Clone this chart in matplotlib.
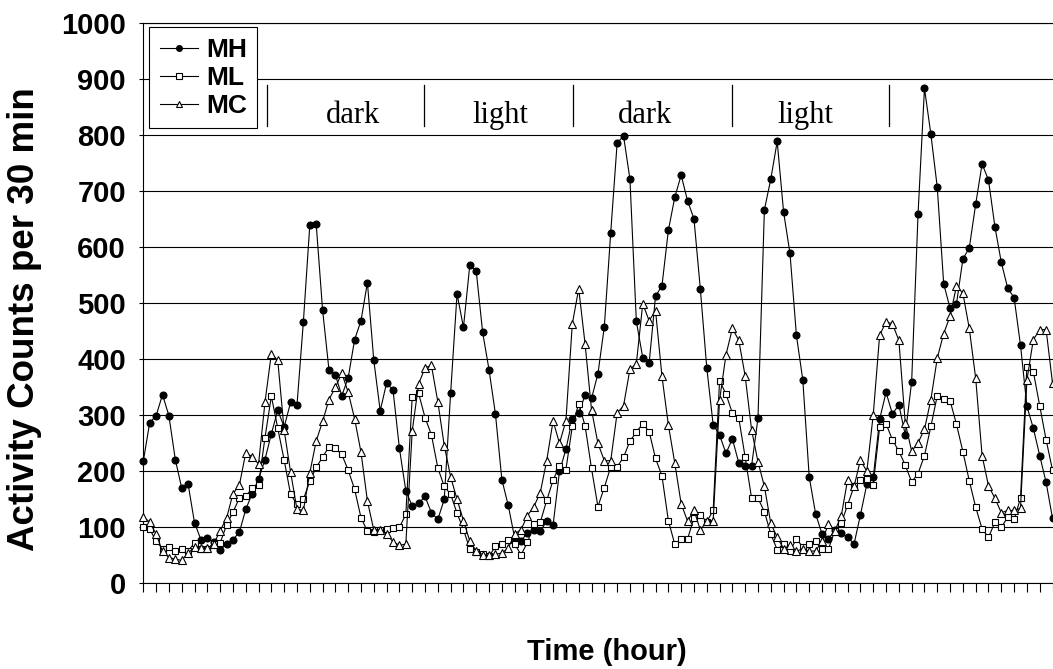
import numpy as np
import matplotlib
matplotlib.use('Agg')
import matplotlib.pyplot as plt
from matplotlib.lines import Line2D

# ---- data (activity counts per 30 min, one value per half hour) ----
mh = [218, 287, 299, 337, 299, 221, 170, 177, 108, 78, 81, 74, 60, 70, 78, 91, 132, 160, 186, 221,
      267, 309, 279, 323, 318, 467, 639, 642, 488, 381, 372, 335, 367, 435, 469, 537, 398, 308, 358, 345,
      241, 165, 138, 143, 155, 126, 114, 150, 340, 517, 457, 569, 557, 448, 381, 302, 185, 139, 81, 76,
      90, 96, 93, 111, 104, 200, 239, 293, 304, 336, 330, 374, 458, 626, 786, 799, 722, 468, 403, 393,
      513, 531, 630, 689, 729, 683, 651, 525, 385, 283, 265, 232, 258, 215, 210, 210, 295, 667, 722, 789,
      663, 589, 443, 363, 190, 124, 88, 79, 95, 89, 83, 70, 122, 177, 189, 293, 341, 302, 319, 265,
      360, 660, 884, 802, 707, 535, 491, 499, 579, 599, 677, 749, 720, 637, 573, 527, 510, 425, 316, 277,
      228, 180, 116]
ml = [100, 97, 75, 62, 65, 57, 62, 58, 72, 62, 62, 70, 72, 104, 127, 152, 155, 170, 176, 260,
      334, 277, 220, 159, 141, 150, 182, 207, 225, 244, 241, 230, 202, 168, 117, 93, 91, 95, 97, 98,
      100, 123, 333, 339, 296, 265, 206, 173, 159, 125, 96, 61, 56, 53, 48, 66, 70, 78, 70, 51,
      73, 106, 109, 148, 184, 210, 203, 280, 321, 281, 205, 137, 171, 208, 208, 225, 254, 270, 285, 271,
      223, 192, 112, 70, 79, 79, 117, 122, 110, 130, 362, 338, 304, 295, 225, 152, 152, 128, 88, 60,
      71, 58, 79, 65, 71, 76, 62, 61, 94, 107, 140, 173, 185, 186, 176, 279, 285, 256, 236, 211,
      181, 196, 228, 280, 335, 329, 326, 284, 235, 183, 136, 97, 82, 109, 100, 118, 114, 152, 387, 378,
      317, 256, 202]
mc = [119, 109, 88, 57, 46, 43, 41, 54, 64, 63, 63, 70, 94, 116, 160, 175, 233, 226, 213, 323,
      410, 398, 273, 199, 132, 130, 197, 254, 289, 328, 350, 375, 341, 294, 234, 147, 95, 96, 88, 74,
      68, 70, 272, 356, 385, 389, 324, 246, 190, 150, 112, 75, 58, 51, 50, 52, 54, 63, 88, 96,
      121, 137, 162, 219, 290, 250, 290, 463, 526, 427, 310, 250, 219, 219, 304, 317, 382, 392, 499, 469,
      487, 370, 283, 215, 142, 111, 131, 95, 111, 112, 327, 408, 455, 434, 370, 274, 217, 173, 107, 82,
      62, 68, 57, 62, 57, 58, 75, 106, 94, 120, 185, 173, 220, 200, 301, 443, 467, 463, 434, 286,
      236, 251, 275, 328, 402, 446, 477, 531, 518, 455, 366, 228, 174, 152, 126, 130, 130, 134, 363, 435,
      453, 453, 357]
series_names = ['MH', 'ML', 'MC']
y_ticks = list(range(0, 1001, 100))
phase_labels = ['dark', 'light', 'dark', 'light']
phase_bounds = [9.64, 21.94, 33.53, 45.95, 58.25]   # hours
phase_label_x = [16.35, 27.85, 39.18, 51.67]        # hours

SANS = ['Liberation Sans', 'DejaVu Sans']
SERIF = ['Liberation Serif', 'DejaVu Serif']

W, H = 1053, 669
fig = plt.figure(figsize=(W / 100, H / 100), dpi=100)
ax_left, ax_right, ax_top, ax_bot = 143.3, 1053.0, 23.3, 583.3
ax = fig.add_axes([ax_left / W, 1 - ax_bot / H, (ax_right - ax_left) / W, (ax_bot - ax_top) / H])

x = np.arange(len(mh)) * 0.5
lw = 0.8
ax.plot(x, mh, '-', marker='o', color='black', mfc='black', mec='black', ms=4.8, lw=lw,
        clip_on=False, zorder=5)
ax.plot(x, ml, '-', marker='s', color='black', mfc='white', mec='black', ms=4.6, mew=0.8, lw=lw,
        clip_on=False, zorder=6)
ax.plot(x, mc, '-', marker='^', color='black', mfc='white', mec='black', ms=5.6, mew=0.8, lw=lw,
        clip_on=False, zorder=7)

ax.set_xlim(0, (ax_right - ax_left) / 12.806)
ax.set_ylim(0, 1000)
ax.set_yticks(y_ticks)
ax.set_yticklabels([str(v) for v in y_ticks])
ax.set_xticks(np.arange(0, 72, 1))
ax.tick_params(axis='x', direction='out', length=6.5, width=0.8, labelbottom=False)
ax.tick_params(axis='y', direction='out', length=3, width=0.8, labelsize=21, pad=9.5)
for lab in ax.get_yticklabels():
    lab.set_fontweight('bold')
    lab.set_family(SANS)

ax.yaxis.grid(True, color='black', lw=0.8)
ax.set_axisbelow(True)
ax.spines['right'].set_visible(False)
for s in ['left', 'bottom', 'top']:
    ax.spines[s].set_linewidth(0.8)

ax.set_ylabel('Activity Counts per 30 min', fontsize=26.5, fontweight='bold', family=SANS)
ax.yaxis.set_label_coords((25 - ax_left) / (ax_right - ax_left), 0.472)
ax.set_xlabel('Time (hour)', fontsize=21, fontweight='bold', family=SANS)
ax.xaxis.set_label_coords((607 - ax_left) / (ax_right - ax_left), (ax_bot - 652) / (ax_bot - ax_top))
ax.xaxis.label.set_va('center')
ax.yaxis.label.set_va('center')

# light/dark annotations
for b in phase_bounds:
    ax.plot([b, b], [817, 890], color='black', lw=0.9, zorder=3)
for lx, lt in zip(phase_label_x, phase_labels):
    ax.text(lx, 822, lt, ha='center', va='baseline', fontsize=22, family=SERIF, zorder=3)

handles = [
    Line2D([], [], color='black', lw=lw, marker='o', mfc='black', mec='black', ms=4),
    Line2D([], [], color='black', lw=lw, marker='s', mfc='white', mec='black', ms=4.4, mew=0.8),
    Line2D([], [], color='black', lw=lw, marker='^', mfc='white', mec='black', ms=5, mew=0.8),
]
leg = ax.legend(handles, series_names, loc='upper left',
                bbox_to_anchor=(149.3 / W, 1 - 27.3 / H), bbox_transform=fig.transFigure,
                frameon=True, fancybox=False, edgecolor='black', framealpha=1,
                borderaxespad=0, prop={'family': SANS, 'weight': 'bold', 'size': 19},
                handlelength=1.45, handletextpad=0.3, labelspacing=0.15, borderpad=0.4)
leg.get_frame().set_linewidth(0.8)
leg.set_zorder(20)

fig.savefig('out.png', dpi=100)
